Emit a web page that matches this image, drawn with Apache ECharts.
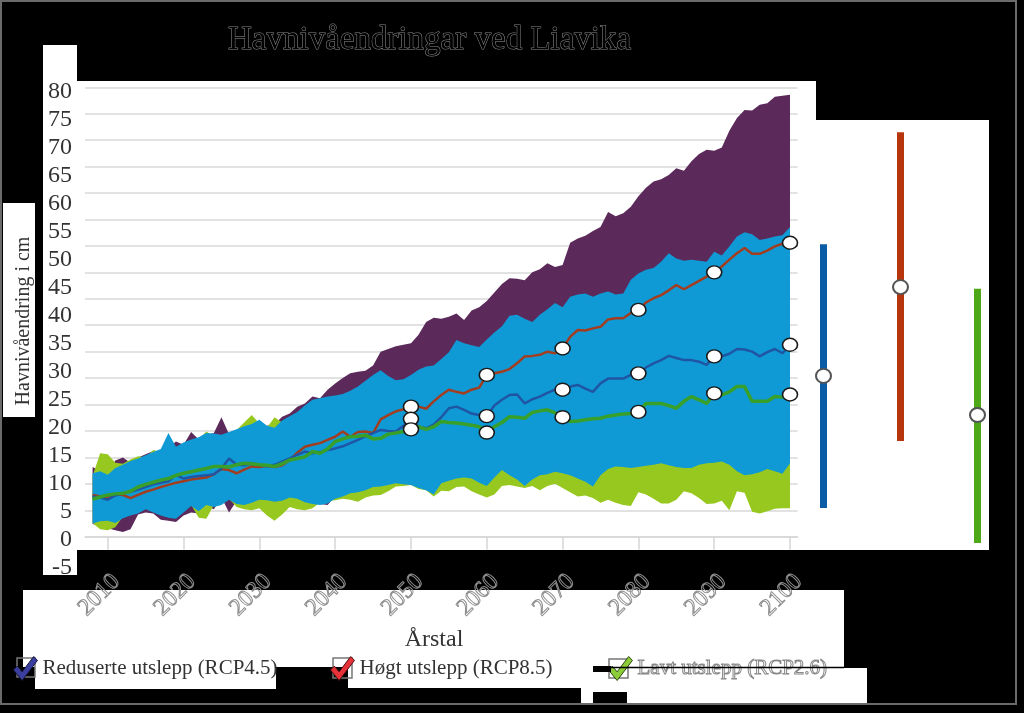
<!DOCTYPE html>
<html><head><meta charset="utf-8">
<script src="https://cdn.jsdelivr.net/npm/echarts@6/dist/echarts.min.js"></script>
<style>html,body{margin:0;padding:0;background:#000;}#c{width:1024px;height:713px;}</style>
</head><body><div id="c"></div>
<script>
// ---------- DATA (years 2008..2100) ----------
const firstYear = 2008, lastYear = 2100;
const markerYears = [2050, 2060, 2070, 2080, 2090, 2100];

const seriesNames = ['Reduserte utslepp (RCP4.5)', 'Høgt utslepp (RCP8.5)', 'Lavt utslepp (RCP2.6)'];

// RCP8.5 range (purple)
const rcp85High = [13.2,12.4,12.2,14.4,15.0,14.0,15.0,15.6,16.2,15.6,
 16.8,18.0,17.4,19.8,18.4,19.2,19.6,22.6,19.4,20.0,
 20.4,20.2,20.6,21.0,21.2,22.7,23.3,24.6,25.2,26.5,
 26.2,27.8,29.0,30.0,30.9,31.2,31.4,32.4,35.0,35.5,
 36.0,36.3,36.6,38.2,40.6,41.4,41.2,41.6,42.2,41.0,
 42.8,43.4,44.6,46.2,47.8,48.9,48.8,48.5,50.0,50.6,
 51.7,51.0,51.4,55.6,56.4,56.9,57.8,58.6,61.4,60.6,
 61.2,62.4,64.4,66.0,67.2,67.6,68.4,69.7,69.2,71.0,
 72.4,73.2,73.0,73.6,76.8,79.2,80.7,80.6,81.7,82.0,
 83.2,83.4,83.6];
const rcp85Low = [2.4,2.0,1.6,1.2,0.9,1.4,4.2,4.6,4.4,3.2,
 3.0,2.8,4.0,4.6,4.4,5.8,5.2,7.4,4.6,6.8,
 6.4,6.0,5.6,6.4,6.6,6.8,7.0,7.0,7.4,6.2,
 6.2,6.0,7.6,7.4,7.5,7.6,8.8,10.6,11.8,12.4,
 13.0,13.6,14.2,14.0,14.6,15.4,16.0,16.2,16.8,17.2,
 17.0,17.6,18.4,18.8,19.4,19.0,19.8,20.4,21.0,21.6,
 22.0,22.6,23.2,23.0,23.8,24.4,25.0,25.4,25.8,26.6,
 27.0,27.4,27.2,28.0,28.6,29.2,29.0,29.8,30.4,31.0,
 31.2,31.8,32.4,32.2,33.0,33.6,34.0,34.4,34.2,35.0,
 35.4,35.8,36.2];
// RCP4.5 range (blue)
const rcp45High = [12.0,12.4,11.7,13.0,13.6,14.3,14.8,15.4,16.0,16.6,
 19.6,17.0,17.8,18.4,18.8,19.6,19.5,19.3,19.8,20.3,
 20.9,21.3,22.1,21.0,20.6,22.0,22.8,23.6,24.8,25.9,
 26.2,26.5,26.7,27.0,27.6,28.4,29.5,30.6,31.5,30.4,
 29.6,29.8,30.6,31.6,32.2,32.4,33.6,34.9,37.2,36.6,
 36.2,35.9,37.3,38.6,39.8,41.8,42.0,41.2,40.6,42.0,
 43.0,44.2,43.4,45.4,45.8,46.0,45.4,46.0,46.4,45.8,
 46.0,48.6,49.8,50.5,50.8,52.0,53.6,52.6,52.2,52.4,
 52.2,52.0,53.9,53.2,54.9,56.8,57.6,57.2,56.1,56.4,
 56.8,57.0,58.6];
const rcp45Low = [2.5,2.9,3.0,2.6,3.5,4.0,4.4,5.2,4.6,4.0,
 3.6,3.4,4.6,5.8,4.8,6.0,5.6,6.0,7.0,6.2,
 6.0,6.4,7.0,6.9,6.6,6.8,7.4,7.2,6.5,6.2,
 6.0,6.3,7.2,7.6,8.2,8.4,8.8,9.4,9.5,9.8,
 10.1,9.9,9.8,9.2,8.8,8.0,10.1,10.6,11.0,11.2,
 11.0,10.2,9.6,11.2,12.6,11.6,10.8,9.6,10.8,11.6,
 11.8,12.3,12.0,11.6,11.0,10.4,9.5,11.6,12.8,13.3,
 13.2,13.0,13.2,13.4,13.6,13.9,13.5,13.2,13.0,13.0,
 13.6,13.9,14.0,14.2,13.6,12.4,11.6,11.8,12.2,12.8,
 12.4,11.9,13.9];
// RCP2.6 range (green)
const rcp26High = [11.5,15.8,15.6,14.0,13.8,14.6,15.2,15.0,16.4,16.0,
 16.2,16.8,17.4,18.0,18.4,19.9,19.0,19.0,19.4,20.2,
 21.6,23.0,21.4,20.6,22.6,21.6,21.8,22.2,23.0,23.2,
 23.8,24.0,24.6,24.8,25.4,26.0,26.2,26.8,27.0,27.2,
 26.8,27.4,28.0,28.8,29.0,29.2,30.0,30.8,31.0,31.4,
 31.2,31.8,32.6,33.2,33.4,34.2,34.0,34.6,35.4,35.6,
 36.2,36.8,36.6,37.4,38.0,37.6,38.2,38.8,39.4,39.0,
 39.6,40.4,41.0,41.2,41.8,42.4,42.0,42.8,43.2,43.0,
 43.8,44.2,44.4,44.8,45.2,45.6,45.4,46.0,46.4,46.2,
 46.6,46.8,47.2];
const rcp26Low = [2.6,1.4,1.2,1.8,3.8,4.6,5.0,5.4,5.0,4.8,
 4.4,4.6,5.0,6.0,3.6,3.4,6.0,6.4,7.2,5.6,
 5.2,5.0,5.4,4.0,3.0,4.2,5.6,5.2,5.0,5.4,
 6.4,6.8,6.9,7.2,7.0,6.6,7.4,7.8,7.9,8.6,
 9.5,9.6,9.8,9.0,8.8,7.6,8.7,8.6,9.4,9.5,
 8.6,8.0,7.4,8.0,9.6,9.8,9.5,9.2,9.6,8.8,
 9.6,10.0,9.2,8.4,7.6,7.8,7.3,6.4,7.0,6.4,
 6.0,5.8,8.4,8.0,7.2,6.3,6.3,7.0,8.6,8.2,
 7.3,6.2,6.3,6.8,5.0,8.6,8.3,4.7,4.4,4.8,
 5.3,5.4,5.4];
// medians
const rcp85Mid = [7.9,7.6,7.3,8.0,7.9,7.3,7.9,8.5,8.9,9.4,
 9.8,10.2,10.5,10.8,11.0,11.2,11.8,12.8,12.6,12.0,
 12.7,13.3,13.2,13.4,13.2,13.5,14.5,15.9,17.0,17.4,
 17.7,18.3,18.9,19.9,18.9,19.8,19.9,19.6,22.2,23.0,
 23.7,24.1,24.6,24.6,24.2,25.6,26.8,27.8,27.4,27.1,
 27.8,28.2,30.6,30.9,31.2,31.7,32.8,34.1,34.2,34.4,
 35.0,34.7,35.6,37.8,39.1,39.0,39.4,39.7,41.1,41.3,
 41.3,42.3,42.9,44.3,45.1,45.7,46.6,47.6,46.8,47.6,
 48.4,49.2,50.0,51.1,52.4,53.6,54.6,53.5,53.5,54.1,
 54.9,55.4,55.6];
const rcp45Mid = [7.6,7.4,7.0,7.8,8.2,8.5,8.9,9.4,9.9,10.2,
 10.5,11.7,11.0,11.3,11.5,11.6,11.8,12.9,14.8,13.6,
 13.5,13.9,13.6,13.3,13.6,14.2,14.8,15.5,16.1,15.8,
 16.0,16.4,16.7,17.1,17.7,18.3,19.0,19.6,20.2,20.0,
 19.9,21.0,22.3,20.8,20.5,21.2,22.6,24.3,24.6,24.0,
 23.3,23.0,22.8,24.8,25.9,26.8,26.9,25.2,26.0,26.5,
 27.2,27.8,27.8,28.4,28.7,28.0,27.4,29.0,29.9,29.9,
 29.9,30.6,30.9,32.0,32.8,33.4,34.2,33.8,33.4,33.4,
 33.1,32.5,34.1,34.1,34.6,35.5,35.4,35.0,34.1,34.9,
 35.5,34.7,36.3];
const rcp26Mid = [7.1,7.5,7.9,8.1,8.2,8.6,9.4,9.9,10.3,10.7,
 11.0,11.6,12.0,12.3,12.6,12.9,13.3,13.3,13.2,13.6,
 13.9,13.8,13.6,13.5,13.3,13.8,14.5,14.8,15.1,16.1,
 15.8,16.6,18.0,18.5,18.9,19.0,19.2,18.5,18.6,19.4,
 19.6,19.9,20.3,20.8,20.3,20.8,21.8,21.6,21.5,21.3,
 21.1,20.8,19.7,20.8,21.6,22.7,22.6,22.4,23.5,23.8,
 24.0,23.4,22.6,21.8,21.9,22.1,22.3,22.4,22.8,23.0,
 23.2,23.3,23.6,25.2,25.2,25.2,24.8,24.3,25.6,26.5,
 25.9,25.2,27.1,26.8,27.4,28.4,28.4,25.6,25.6,25.6,
 26.5,26.4,26.9];

// right-hand panel: ranges with central value
const panelCats = ['RCP4.5', 'RCP8.5', 'RCP2.6'];
const panelLow  = [5.4, 18.1, -1.2];
const panelHigh = [55.3, 76.5, 46.9];
const panelMid  = [30.4, 47.2, 23.0];

// tick labels
const yTickMin = -5, yTickMax = 80, yTickStep = 5;

// ---------- STYLE ----------
const SERIF = '"Liberation Serif", "Times New Roman", serif';
const C = {
  purple: '#5b2a5b', blueBand: '#0f9ad6', greenBand: '#97c820',
  red: '#a33d1f', blue: '#1f55a3', green: '#38a02a',
  barBlue: '#0b5ca6', barRed: '#b8360d', barGreen: '#4fa817'
};
const CHECK = 'path://M0,14 L4,10 L9,16 L21,0 L25,4 L9,25 Z';

// category axis years (one empty slot each side)
const cats = [];
for (let y = firstYear - 1; y <= lastYear + 1; y++) cats.push(String(y));
const pad = a => [null].concat(a);
const diff = (hi, lo) => hi.map((v, i) => +(v - lo[i]).toFixed(2));

function band(key, lo, hi, color) {
  return [
    { name: key + '_lo', type: 'line', stack: key, data: pad(lo), symbol: 'none',
      lineStyle: { opacity: 0 }, silent: true, z: 2 },
    { name: key + '_hi', type: 'line', stack: key, data: pad(diff(hi, lo)), symbol: 'none',
      lineStyle: { opacity: 0 }, areaStyle: { color: color, opacity: 1 }, silent: true, z: 2 }
  ];
}
function median(name, data, color, width) {
  return { name: name, type: 'line', data: pad(data), symbol: 'circle',
    showSymbol: true, showAllSymbol: true,
    symbolSize: (v, p) => markerYears.indexOf(+cats[p.dataIndex]) >= 0 ? [15, 13] : 0,
    lineStyle: { color: color, width: width },
    itemStyle: { color: '#fff', borderColor: '#1a1a1a', borderWidth: 1.5, opacity: 1 }, z: 3 };
}
const decade = (i, v) => (+v) % 10 === 0;
const axisGray = '#d6d6d6';

const bg = (x, y, w, h) => ({ type: 'rect', z: -10, silent: true, shape: { x, y, width: w, height: h }, style: { fill: '#fff' } });

const option = {
  backgroundColor: '#000',
  animation: false,
  title: {
    text: 'Havnivåendringar ved Liavika', left: 228, top: 24, padding: 0,
    textStyle: { fontFamily: SERIF, fontSize: 33, fontWeight: 'normal', color: '#000',
      textBorderColor: '#8c8c8c', textBorderWidth: 1 }
  },
  grid: [
    { left: 85, top: 87.3, width: 712.6, height: 449.4 },
    { left: 80, top: 92, width: 10, height: 476 },
    { left: 785, top: 87.3, width: 231, height: 475.7 }
  ],
  xAxis: [
    { type: 'category', gridIndex: 0, data: cats, boundaryGap: false,
      axisLine: { lineStyle: { color: axisGray, width: 1.5 } },
      axisTick: { interval: decade, length: 13, lineStyle: { color: axisGray, width: 1.5 } },
      axisLabel: { interval: decade, rotate: 45, margin: 33, verticalAlign: 'top',
        fontFamily: SERIF, fontSize: 24,
        color: 'rgba(0,0,0,0)', textBorderColor: '#8f8f8f', textBorderWidth: 1 },
      splitLine: { show: false } },
    { type: 'value', gridIndex: 1, show: false, min: 0, max: 1 },
    { type: 'category', gridIndex: 2, data: panelCats, show: false }
  ],
  yAxis: [
    { type: 'value', gridIndex: 0, min: 0, max: 85, interval: 5,
      axisLabel: { show: false }, axisLine: { show: false }, axisTick: { show: false },
      splitLine: { lineStyle: { color: '#d9d9d9', width: 1.5 } } },
    { type: 'value', gridIndex: 1, min: yTickMin, max: yTickMax, interval: yTickStep,
      axisLine: { show: false }, axisTick: { show: false }, splitLine: { show: false },
      axisLabel: { margin: 8, fontFamily: SERIF, fontSize: 24, color: '#333' } },
    { type: 'value', gridIndex: 2, min: -5, max: 85, show: false }
  ],
  legend: [
    { left: 13, top: 656, padding: 0, itemWidth: 24, itemHeight: 24, selectedMode: false,
      data: [{ name: seriesNames[0], icon: CHECK, itemStyle: { color: '#3a3f9f', borderColor: '#15153a', borderWidth: 1 } }],
      textStyle: { fontFamily: SERIF, fontSize: 21, color: '#333' } },
    { left: 330, top: 656, padding: 0, itemWidth: 24, itemHeight: 24, selectedMode: false,
      data: [{ name: seriesNames[1], icon: CHECK, itemStyle: { color: '#e8323a', borderColor: '#4a1010', borderWidth: 1 } }],
      textStyle: { fontFamily: SERIF, fontSize: 21, color: '#333' } },
    { left: 608, top: 656, padding: 0, itemWidth: 24, itemHeight: 24, selectedMode: false,
      data: [{ name: seriesNames[2], icon: CHECK, itemStyle: { color: '#8ccc3a', borderColor: '#2a4a10', borderWidth: 1 } }],
      textStyle: { fontFamily: SERIF, fontSize: 21, color: 'rgba(0,0,0,0)', textBorderColor: '#888', textBorderWidth: 1 } }
  ],
  series: [
    ...band('p85', rcp85Low, rcp85High, C.purple),
    ...band('p26', rcp26Low, rcp26High, C.greenBand),
    ...band('p45', rcp45Low, rcp45High, C.blueBand),
    median(seriesNames[1], rcp85Mid, C.red, 2.5),
    median(seriesNames[0], rcp45Mid, C.blue, 2.5),
    median(seriesNames[2], rcp26Mid, C.green, 3.5),
    { type: 'custom', xAxisIndex: 2, yAxisIndex: 2, z: 3,
      data: panelCats.map((c, i) => [i, panelLow[i], panelHigh[i]]),
      encode: { x: 0, y: [1, 2] },
      renderItem: (params, api) => {
        const i = api.value(0);
        const lo = api.coord([i, api.value(1)]);
        const hi = api.coord([i, api.value(2)]);
        const cols = [C.barBlue, C.barRed, C.barGreen];
        return { type: 'rect', shape: { x: lo[0] - 3.5, y: hi[1], width: 7, height: lo[1] - hi[1] },
          style: { fill: cols[params.dataIndex] } };
      } },
    { type: 'scatter', xAxisIndex: 2, yAxisIndex: 2, z: 4,
      data: panelCats.map((c, i) => [i, panelMid[i]]), symbol: 'circle', symbolSize: [15, 14],
      itemStyle: { color: '#fff', borderColor: '#555', borderWidth: 2, opacity: 1 } }
  ],
  graphic: [
    bg(43, 45, 34, 530),
    bg(77, 81, 739, 469),
    bg(816, 120, 173, 430),
    bg(3, 203, 32, 214),
    bg(23, 590, 821, 77),
    bg(35, 667, 241, 22),
    bg(348, 667, 233, 21),
    bg(581, 667, 12, 38),
    bg(593, 667, 34, 25),
    bg(627, 668, 240, 37),
    { type: 'rect', z: 3, silent: true, shape: { x: 17, y: 658, width: 18, height: 19 }, style: { fill: 'none', stroke: '#777', lineWidth: 1.5 } },
    { type: 'rect', z: 3, silent: true, shape: { x: 333, y: 658, width: 19, height: 20 }, style: { fill: 'none', stroke: '#777', lineWidth: 1.5 } },
    { type: 'rect', z: 3, silent: true, shape: { x: 609, y: 659, width: 19, height: 19 }, style: { fill: 'none', stroke: '#777', lineWidth: 1.5 } },
    { type: 'rect', z: 10, silent: true, shape: { x: 593, y: 666, width: 18, height: 6 }, style: { fill: '#000' } },
    { type: 'line', z: 10, silent: true, shape: { x1: 610, y1: 667.5, x2: 844, y2: 667.5 }, style: { stroke: '#000', lineWidth: 1.5 } },
    { type: 'text', z: 5, silent: true, x: 24, y: 321, rotation: Math.PI / 2,
      style: { text: 'Havnivåendring i cm', fontFamily: SERIF, fontSize: 20, fill: '#333', align: 'center', verticalAlign: 'middle' } },
    { type: 'text', z: 5, silent: true, x: 434, y: 640,
      style: { text: 'Årstal', fontFamily: SERIF, fontSize: 24, fill: '#333', align: 'center', verticalAlign: 'middle' } },
    { type: 'rect', z: 20, silent: true, shape: { x: 1, y: 1, width: 1015, height: 703 }, style: { fill: 'none', stroke: '#6a6a6a', lineWidth: 2 } }
  ]
};
const chart = echarts.init(document.getElementById('c'));
chart.setOption(option);
</script>
</body></html>
